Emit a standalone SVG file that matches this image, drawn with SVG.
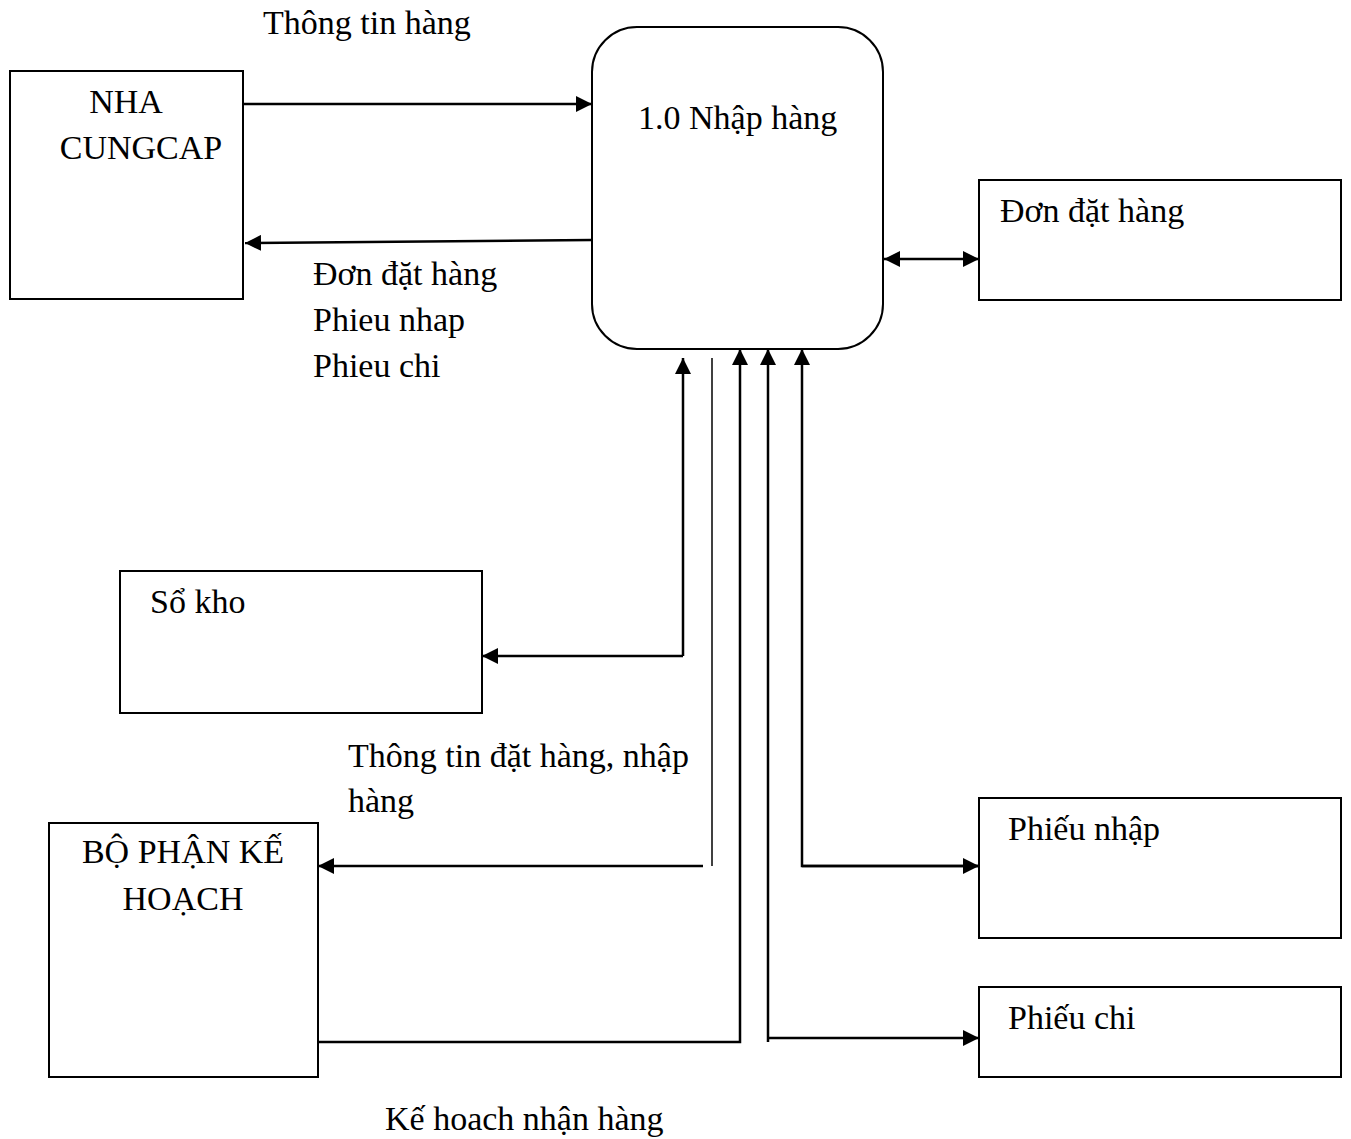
<svg xmlns="http://www.w3.org/2000/svg" width="1351" height="1139" viewBox="0 0 1351 1139">
<defs>
<marker id="ah" markerUnits="userSpaceOnUse" markerWidth="16" markerHeight="16" viewBox="0 0 16 16" refX="16" refY="8" orient="auto-start-reverse">
<path d="M0,0 L16,8 L0,16 Z" fill="#000"/>
</marker>
</defs>
<style>
text{font-family:"Liberation Serif","Times New Roman",serif;font-size:34px;fill:#000}
.box{fill:#fff;stroke:#000;stroke-width:2}
.c{fill:none;stroke:#000;stroke-width:2.5}
.t{fill:none;stroke:#000;stroke-width:1.5}
</style>
<rect width="1351" height="1139" fill="#fff"/>
<g id="nha-cungcap">
<rect class="box" x="10" y="71" width="233" height="228"/>
<text x="126" y="113" text-anchor="middle">NHA</text>
<text x="141" y="159" text-anchor="middle">CUNGCAP</text>
</g>
<g id="p1">
<rect class="box" x="592" y="27" width="291" height="322" rx="45" ry="45"/>
<text x="638" y="129">1.0 Nhập hàng</text>
</g>
<g id="don-dat-hang">
<rect class="box" x="979" y="180" width="362" height="120"/>
<text x="1000" y="222">Đơn đặt hàng</text>
</g>
<g id="so-kho">
<rect class="box" x="120" y="571" width="362" height="142"/>
<text x="150" y="613">Sổ kho</text>
</g>
<g id="bo-phan-ke-hoach">
<rect class="box" x="49" y="823" width="269" height="254"/>
<text x="183" y="863" text-anchor="middle">BỘ PHẬN KẾ</text>
<text x="183" y="910" text-anchor="middle">HOẠCH</text>
</g>
<g id="phieu-nhap">
<rect class="box" x="979" y="798" width="362" height="140"/>
<text x="1008" y="840">Phiếu nhập</text>
</g>
<g id="phieu-chi">
<rect class="box" x="979" y="987" width="362" height="90"/>
<text x="1008" y="1029">Phiếu chi</text>
</g>
<g id="connectors">
<line class="c" x1="243" y1="104" x2="592" y2="104" marker-end="url(#ah)"/>
<line class="c" x1="592" y1="240" x2="245" y2="243" marker-end="url(#ah)"/>
<line class="c" x1="884" y1="259" x2="979" y2="259" marker-start="url(#ah)" marker-end="url(#ah)"/>
<polyline class="c" points="683,656 683,358" marker-end="url(#ah)"/>
<polyline class="c" points="683,656 482,656" marker-end="url(#ah)"/>
<line class="t" x1="712" y1="358" x2="712" y2="866"/>
<line class="c" x1="703" y1="866" x2="318" y2="866" marker-end="url(#ah)"/>
<polyline class="c" points="318,1042 740,1042 740,349" marker-end="url(#ah)"/>
<line class="c" x1="768" y1="1042" x2="768" y2="349" marker-end="url(#ah)"/>
<line class="c" x1="768" y1="1038" x2="979" y2="1038" marker-end="url(#ah)"/>
<polyline class="c" points="979,866 802,866 802,349" marker-end="url(#ah)"/>
<line class="c" x1="802" y1="866" x2="979" y2="866" marker-end="url(#ah)"/>
<text x="263" y="34">Thông tin hàng</text>
<text x="313" y="285">Đơn đặt hàng</text>
<text x="313" y="331">Phieu nhap</text>
<text x="313" y="377">Phieu chi</text>
<text x="348" y="767">Thông tin đặt hàng, nhập</text>
<text x="348" y="812">hàng</text>
<text x="385" y="1130">Kế hoach nhận hàng</text>
</g>
</svg>
